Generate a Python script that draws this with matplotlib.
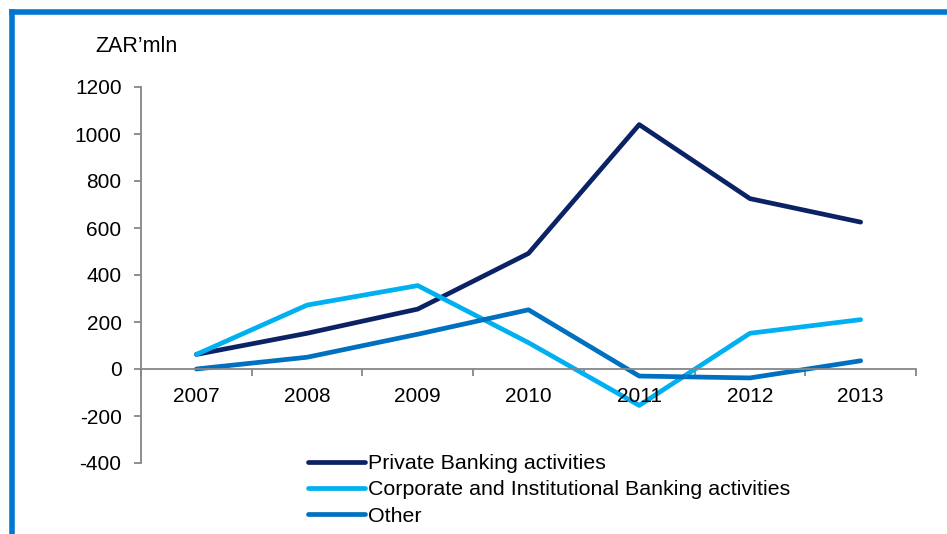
import matplotlib.pyplot as plt
from matplotlib.lines import Line2D
from matplotlib.ticker import FuncFormatter

plt.rcParams['font.family'] = ['Liberation Sans', 'DejaVu Sans']

years = ["2007", "2008", "2009", "2010", "2011", "2012", "2013"]
private_banking = [62, 152, 255, 492, 1040, 725, 625]
corporate_banking = [62, 272, 355, 112, -155, 152, 210]
other = [0, 50, 148, 252, -30, -38, 35]

fig = plt.figure(figsize=(9.47, 5.34), dpi=100)
ax = fig.add_axes([141 / 947, (534 - 463) / 534, 775 / 947, 376 / 534])

x = list(range(len(years)))
ax.plot(x, private_banking, color="#0B2265", lw=3.4, solid_capstyle="round",
        label="Private Banking activities")
ax.plot(x, corporate_banking, color="#00B0F0", lw=3.4, solid_capstyle="round",
        label="Corporate and Institutional Banking activities")
ax.plot(x, other, color="#0070C0", lw=3.4, solid_capstyle="round",
        label="Other")

ax.set_xlim(-0.5, 6.5)
ax.set_ylim(-400, 1200)
ax.set_yticks(range(-400, 1201, 200))
ax.yaxis.set_major_formatter(FuncFormatter(lambda v, p: "%d" % v))

# category axis crosses at zero, ticks between categories
ax.spines["bottom"].set_position(("data", 0))
ax.spines["top"].set_visible(False)
ax.spines["right"].set_visible(False)
for s in ("left", "bottom"):
    ax.spines[s].set_color("#868686")
    ax.spines[s].set_linewidth(1.3)
ax.set_xticks([i + 0.5 for i in range(-1, 7)])
ax.set_xticklabels([])
ax.tick_params(axis="x", direction="out", length=5, color="#868686", width=1.3)
ax.tick_params(axis="y", direction="out", length=5, color="#868686", width=1.3,
               labelsize=15, pad=9)
for i, yr in enumerate(years):
    ax.text(i, -115, yr, ha="center", va="center", fontsize=15)

fig.text(95 / 947, 1 - 47 / 534, "ZAR\u2019mln", fontsize=15.5, va="center", ha="left")

leg = fig.legend(loc="upper left", bbox_to_anchor=(308 / 947, 1 - 454 / 534),
                 frameon=False, fontsize=15.4, handlelength=2.65,
                 handletextpad=0.15, labelspacing=0.35, borderpad=0,
                 borderaxespad=0)

# blue frame along top and left edges
fig.add_artist(Line2D([12 / 947, 12 / 947], [0, 1 - 12 / 534],
                      transform=fig.transFigure, color="#0077D0", lw=4,
                      solid_capstyle="projecting"))
fig.add_artist(Line2D([12 / 947, 1], [1 - 12 / 534, 1 - 12 / 534],
                      transform=fig.transFigure, color="#0077D0", lw=4,
                      solid_capstyle="projecting"))

fig.savefig("out.png", dpi=100)
